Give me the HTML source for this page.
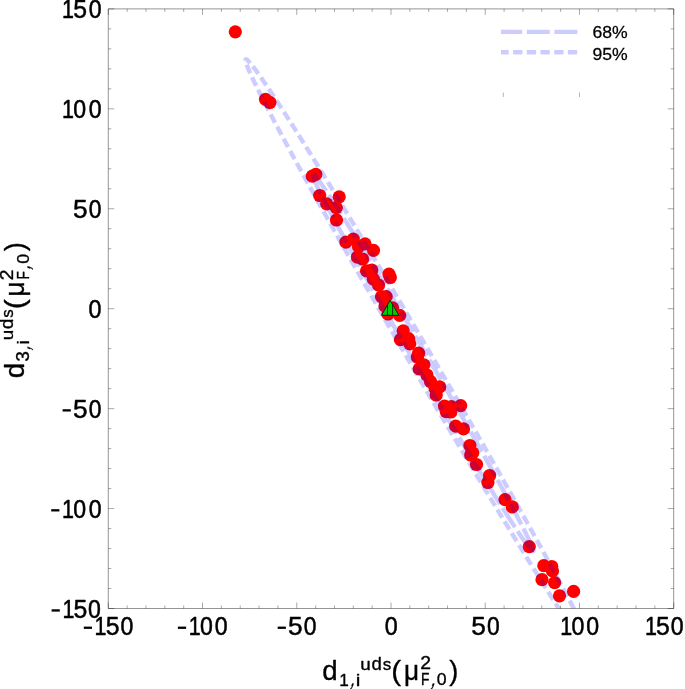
<!DOCTYPE html>
<html><head><meta charset="utf-8"><title>plot</title>
<style>html,body{margin:0;padding:0;background:#fff;}svg{display:block;will-change:transform;}text{font-family:"Liberation Sans",sans-serif;fill:#000;}</style>
</head><body>
<svg width="685" height="689" viewBox="0 0 685 689">
<rect width="685" height="689" fill="#fff"/>
<defs><clipPath id="cp"><rect x="108.30" y="8.90" width="565.40" height="599.60"/></clipPath></defs>
<g clip-path="url(#cp)">
<g fill="#ff0000">
<circle cx="235.3" cy="31.8" r="6.6"/>
<circle cx="265.5" cy="99.3" r="6.6"/>
<circle cx="269.9" cy="102.5" r="6.6"/>
<circle cx="312.3" cy="176.2" r="6.6"/>
<circle cx="315.8" cy="174.4" r="6.6"/>
<circle cx="319.7" cy="195.5" r="6.6"/>
<circle cx="339.2" cy="196.8" r="6.6"/>
<circle cx="326.7" cy="203.8" r="6.6"/>
<circle cx="336.3" cy="207.7" r="6.6"/>
<circle cx="336.5" cy="220.0" r="6.6"/>
<circle cx="345.9" cy="242.1" r="6.6"/>
<circle cx="353.3" cy="239.1" r="6.6"/>
<circle cx="365.0" cy="243.8" r="6.6"/>
<circle cx="373.5" cy="250.3" r="6.6"/>
<circle cx="358.5" cy="246.7" r="6.6"/>
<circle cx="357.4" cy="257.2" r="6.6"/>
<circle cx="362.6" cy="259.0" r="6.6"/>
<circle cx="366.5" cy="270.8" r="6.6"/>
<circle cx="371.8" cy="270.0" r="6.6"/>
<circle cx="389.0" cy="274.2" r="6.6"/>
<circle cx="390.3" cy="277.5" r="6.6"/>
<circle cx="373.4" cy="279.2" r="6.6"/>
<circle cx="378.6" cy="285.0" r="6.6"/>
<circle cx="381.5" cy="296.7" r="6.6"/>
<circle cx="386.2" cy="296.7" r="6.6"/>
<circle cx="385.0" cy="306.0" r="6.6"/>
<circle cx="392.6" cy="307.8" r="6.6"/>
<circle cx="388.0" cy="314.0" r="6.6"/>
<circle cx="399.7" cy="315.3" r="6.6"/>
<circle cx="403.2" cy="330.8" r="6.6"/>
<circle cx="400.4" cy="339.7" r="6.6"/>
<circle cx="408.6" cy="338.6" r="6.6"/>
<circle cx="409.8" cy="343.8" r="6.6"/>
<circle cx="418.6" cy="353.2" r="6.6"/>
<circle cx="417.4" cy="357.2" r="6.6"/>
<circle cx="423.9" cy="364.8" r="6.6"/>
<circle cx="419.2" cy="368.9" r="6.6"/>
<circle cx="427.0" cy="375.0" r="6.6"/>
<circle cx="430.5" cy="381.5" r="6.6"/>
<circle cx="439.7" cy="386.9" r="6.6"/>
<circle cx="435.0" cy="388.0" r="6.6"/>
<circle cx="436.2" cy="395.0" r="6.6"/>
<circle cx="444.5" cy="406.1" r="6.6"/>
<circle cx="451.4" cy="406.7" r="6.6"/>
<circle cx="446.2" cy="411.6" r="6.6"/>
<circle cx="450.8" cy="412.0" r="6.6"/>
<circle cx="460.7" cy="405.6" r="6.6"/>
<circle cx="455.7" cy="426.2" r="6.6"/>
<circle cx="463.5" cy="428.9" r="6.6"/>
<circle cx="469.9" cy="445.5" r="6.6"/>
<circle cx="472.8" cy="452.8" r="6.6"/>
<circle cx="470.7" cy="455.0" r="6.6"/>
<circle cx="476.5" cy="464.5" r="6.6"/>
<circle cx="489.6" cy="475.5" r="6.6"/>
<circle cx="487.9" cy="482.5" r="6.6"/>
<circle cx="505.0" cy="499.6" r="6.6"/>
<circle cx="512.3" cy="506.9" r="6.6"/>
<circle cx="529.3" cy="546.6" r="6.6"/>
<circle cx="543.8" cy="565.7" r="6.6"/>
<circle cx="551.7" cy="566.5" r="6.6"/>
<circle cx="552.5" cy="570.9" r="6.6"/>
<circle cx="542.0" cy="579.7" r="6.6"/>
<circle cx="554.6" cy="582.7" r="6.6"/>
<circle cx="559.5" cy="595.8" r="6.6"/>
<circle cx="573.6" cy="591.4" r="6.6"/>
</g>
<g fill="none" stroke="#0000ff" stroke-opacity="0.2" stroke-width="4.4">
<path d="M312.19 173.14 L312.25 173.11 L312.31 173.11 L312.38 173.11 L312.47 173.13 L312.56 173.17 L312.65 173.21 L312.76 173.28 L312.87 173.36 L313.00 173.45 L313.13 173.55 L313.27 173.68 L313.42 173.81 L313.57 173.96 L313.74 174.12 L313.91 174.30 L314.09 174.49 L314.28 174.70 L314.48 174.92 L314.69 175.16 L314.90 175.41 L315.12 175.67 L315.35 175.95 L315.59 176.24 L315.84 176.55 L316.09 176.87 L316.36 177.20 L316.63 177.55 L316.91 177.92 L317.20 178.29 L317.49 178.68 L317.80 179.09 L318.11 179.51 L318.43 179.94 L318.75 180.39 L319.09 180.85 L319.43 181.32 L319.78 181.81 L320.14 182.31 L320.51 182.83 L320.88 183.36 L321.27 183.90 L321.66 184.45 L322.05 185.02 L322.46 185.61 L322.87 186.20 L323.29 186.81 L323.72 187.44 L324.16 188.08 L324.60 188.73 L325.05 189.39 L325.51 190.07 L325.97 190.76 L326.45 191.46 L326.93 192.17 L327.41 192.90 L327.91 193.64 L328.41 194.40 L328.92 195.17 L329.44 195.95 L329.96 196.74 L330.49 197.54 L331.03 198.36 L331.57 199.19 L332.12 200.03 L332.68 200.89 L333.24 201.76 L333.82 202.64 L334.40 203.53 L334.98 204.43 L335.57 205.35 L336.17 206.27 L336.78 207.21 L337.39 208.17 L338.01 209.13 L338.63 210.10 L339.26 211.09 L339.90 212.09 L340.54 213.10 L341.19 214.12 L341.85 215.15 L342.51 216.19 L343.18 217.25 L343.86 218.31 L344.54 219.39 L345.22 220.48 L345.91 221.57 L346.61 222.68 L347.32 223.80 L348.03 224.93 L348.74 226.07 L349.46 227.22 L350.19 228.38 L350.92 229.55 L351.66 230.74 L352.40 231.93 L353.15 233.13 L353.90 234.34 L354.66 235.56 L355.43 236.79 L356.20 238.03 L356.97 239.28 L357.75 240.54 L358.53 241.81 L359.32 243.08 L360.12 244.37 L360.92 245.67 L361.72 246.97 L362.53 248.28 L363.34 249.60 L364.16 250.93 L364.98 252.27 L365.80 253.62 L366.63 254.98 L367.47 256.34 L368.31 257.71 L369.15 259.09 L370.00 260.48 L370.85 261.87 L371.70 263.28 L372.56 264.69 L373.42 266.10 L374.29 267.53 L375.16 268.96 L376.03 270.40 L376.91 271.85 L377.79 273.30 L378.68 274.76 L379.56 276.23 L380.45 277.70 L381.35 279.18 L382.25 280.66 L383.15 282.16 L384.05 283.66 L384.95 285.16 L385.86 286.67 L386.78 288.19 L387.69 289.71 L388.61 291.23 L389.53 292.77 L390.45 294.30 L391.37 295.85 L392.30 297.40 L393.23 298.95 L394.16 300.51 L395.10 302.07 L396.03 303.64 L396.97 305.21 L397.91 306.78 L398.85 308.36 L399.80 309.95 L400.74 311.54 L401.69 313.13 L402.64 314.72 L403.59 316.32 L404.54 317.93 L405.49 319.53 L406.45 321.14 L407.40 322.75 L408.36 324.37 L409.32 325.99 L410.27 327.61 L411.23 329.23 L412.19 330.86 L413.16 332.49 L414.12 334.12 L415.08 335.75 L416.04 337.39 L417.01 339.02 L417.97 340.66 L418.94 342.30 L419.90 343.95 L420.87 345.59 L421.83 347.23 L422.80 348.88 L423.76 350.53 L424.73 352.17 L425.69 353.82 L426.66 355.47 L427.62 357.12 L428.59 358.77 L429.55 360.42 L430.51 362.07 L431.48 363.72 L432.44 365.37 L433.40 367.02 L434.36 368.67 L435.32 370.32 L436.28 371.97 L437.23 373.62 L438.19 375.27 L439.15 376.91 L440.10 378.56 L441.05 380.20 L442.00 381.84 L442.95 383.48 L443.90 385.12 L444.85 386.76 L445.79 388.40 L446.74 390.03 L447.68 391.66 L448.62 393.29 L449.55 394.92 L450.49 396.54 L451.42 398.16 L452.35 399.78 L453.28 401.40 L454.21 403.01 L455.13 404.62 L456.05 406.23 L456.97 407.83 L457.89 409.43 L458.80 411.03 L459.71 412.62 L460.62 414.21 L461.53 415.80 L462.43 417.38 L463.33 418.95 L464.22 420.53 L465.12 422.10 L466.01 423.66 L466.89 425.22 L467.78 426.77 L468.66 428.32 L469.53 429.86 L470.41 431.40 L471.27 432.94 L472.14 434.46 L473.00 435.99 L473.86 437.50 L474.71 439.02 L475.56 440.52 L476.41 442.02 L477.25 443.51 L478.09 445.00 L478.92 446.48 L479.75 447.96 L480.57 449.42 L481.39 450.89 L482.21 452.34 L483.02 453.79 L483.83 455.23 L484.63 456.66 L485.43 458.09 L486.22 459.51 L487.01 460.92 L487.79 462.32 L488.57 463.72 L489.34 465.11 L490.11 466.49 L490.87 467.86 L491.63 469.23 L492.38 470.59 L493.13 471.94 L493.87 473.28 L494.60 474.61 L495.33 475.93 L496.06 477.25 L496.78 478.55 L497.49 479.85 L498.20 481.14 L498.90 482.42 L499.60 483.69 L500.29 484.95 L500.97 486.20 L501.65 487.44 L502.32 488.67 L502.99 489.89 L503.65 491.11 L504.31 492.31 L504.95 493.50 L505.60 494.69 L506.23 495.86 L506.86 497.02 L507.48 498.18 L508.10 499.32 L508.71 500.45 L509.31 501.57 L509.91 502.68 L510.50 503.78 L511.08 504.87 L511.66 505.95 L512.23 507.02 L512.79 508.07 L513.35 509.12 L513.90 510.15 L514.44 511.18 L514.97 512.19 L515.50 513.19 L516.02 514.18 L516.54 515.16 L517.04 516.12 L517.54 517.07 L518.04 518.02 L518.52 518.95 L519.00 519.86 L519.47 520.77 L519.93 521.66 L520.39 522.55 L520.84 523.42 L521.28 524.27 L521.71 525.12 L522.14 525.95 L522.56 526.77 L522.97 527.58 L523.37 528.38 L523.76 529.16 L524.15 529.93 L524.53 530.68 L524.90 531.43 L525.27 532.16 L525.62 532.88 L525.97 533.58 L526.31 534.28 L526.65 534.96 L526.97 535.62 L527.29 536.27 L527.60 536.91 L527.90 537.54 L528.19 538.15 L528.48 538.75 L528.75 539.34 L529.02 539.91 L529.28 540.47 L529.54 541.02 L529.78 541.55 L530.02 542.07 L530.25 542.57 L530.47 543.06 L530.68 543.54 L530.88 544.00 L531.08 544.45 L531.26 544.89 L531.44 545.31 L531.61 545.72 L531.78 546.11 L531.93 546.49 L532.07 546.86 L532.21 547.21 L532.34 547.54 L532.46 547.87 L532.57 548.18 L532.68 548.47 L532.77 548.75 L532.86 549.02 L532.94 549.27 L533.01 549.51 L533.07 549.73 L533.12 549.94 L533.17 550.14 L533.21 550.32 L533.23 550.49 L533.25 550.64 L533.26 550.78 L533.27 550.90 L533.26 551.01 L533.25 551.11 L533.23 551.19 L533.20 551.25 L533.16 551.31 L533.11 551.34 L533.05 551.37 L532.99 551.37 L532.92 551.37 L532.83 551.35 L532.74 551.31 L532.65 551.27 L532.54 551.20 L532.43 551.12 L532.30 551.03 L532.17 550.93 L532.03 550.80 L531.88 550.67 L531.73 550.52 L531.56 550.36 L531.39 550.18 L531.21 549.99 L531.02 549.78 L530.82 549.56 L530.61 549.32 L530.40 549.07 L530.18 548.81 L529.95 548.53 L529.71 548.24 L529.46 547.93 L529.21 547.61 L528.94 547.28 L528.67 546.93 L528.39 546.56 L528.10 546.19 L527.81 545.80 L527.50 545.39 L527.19 544.97 L526.87 544.54 L526.55 544.09 L526.21 543.63 L525.87 543.16 L525.52 542.67 L525.16 542.17 L524.79 541.65 L524.42 541.12 L524.03 540.58 L523.64 540.03 L523.25 539.46 L522.84 538.87 L522.43 538.28 L522.01 537.67 L521.58 537.04 L521.14 536.40 L520.70 535.75 L520.25 535.09 L519.79 534.41 L519.33 533.72 L518.85 533.02 L518.37 532.31 L517.89 531.58 L517.39 530.84 L516.89 530.08 L516.38 529.31 L515.86 528.53 L515.34 527.74 L514.81 526.94 L514.27 526.12 L513.73 525.29 L513.18 524.45 L512.62 523.59 L512.06 522.72 L511.48 521.84 L510.90 520.95 L510.32 520.05 L509.73 519.13 L509.13 518.21 L508.52 517.27 L507.91 516.31 L507.29 515.35 L506.67 514.38 L506.04 513.39 L505.40 512.39 L504.76 511.38 L504.11 510.36 L503.45 509.33 L502.79 508.29 L502.12 507.23 L501.44 506.17 L500.76 505.09 L500.08 504.00 L499.39 502.91 L498.69 501.80 L497.98 500.68 L497.27 499.55 L496.56 498.41 L495.84 497.26 L495.11 496.10 L494.38 494.93 L493.64 493.74 L492.90 492.55 L492.15 491.35 L491.40 490.14 L490.64 488.92 L489.87 487.69 L489.10 486.45 L488.33 485.20 L487.55 483.94 L486.77 482.67 L485.98 481.40 L485.18 480.11 L484.38 478.81 L483.58 477.51 L482.77 476.20 L481.96 474.88 L481.14 473.55 L480.32 472.21 L479.50 470.86 L478.67 469.50 L477.83 468.14 L476.99 466.77 L476.15 465.39 L475.30 464.00 L474.45 462.61 L473.60 461.20 L472.74 459.79 L471.88 458.38 L471.01 456.95 L470.14 455.52 L469.27 454.08 L468.39 452.63 L467.51 451.18 L466.62 449.72 L465.74 448.25 L464.85 446.78 L463.95 445.30 L463.05 443.82 L462.15 442.32 L461.25 440.82 L460.35 439.32 L459.44 437.81 L458.52 436.29 L457.61 434.77 L456.69 433.25 L455.77 431.71 L454.85 430.18 L453.93 428.63 L453.00 427.08 L452.07 425.53 L451.14 423.97 L450.20 422.41 L449.27 420.84 L448.33 419.27 L447.39 417.70 L446.45 416.12 L445.50 414.53 L444.56 412.94 L443.61 411.35 L442.66 409.76 L441.71 408.16 L440.76 406.55 L439.81 404.95 L438.85 403.34 L437.90 401.73 L436.94 400.11 L435.98 398.49 L435.03 396.87 L434.07 395.25 L433.11 393.62 L432.14 391.99 L431.18 390.36 L430.22 388.73 L429.26 387.09 L428.29 385.46 L427.33 383.82 L426.36 382.18 L425.40 380.53 L424.43 378.89 L423.47 377.25 L422.50 375.60 L421.54 373.95 L420.57 372.31 L419.61 370.66 L418.64 369.01 L417.68 367.36 L416.71 365.71 L415.75 364.06 L414.79 362.41 L413.82 360.76 L412.86 359.11 L411.90 357.46 L410.94 355.81 L409.98 354.16 L409.02 352.51 L408.07 350.86 L407.11 349.21 L406.15 347.57 L405.20 345.92 L404.25 344.28 L403.30 342.64 L402.35 341.00 L401.40 339.36 L400.45 337.72 L399.51 336.08 L398.56 334.45 L397.62 332.82 L396.68 331.19 L395.75 329.56 L394.81 327.94 L393.88 326.32 L392.95 324.70 L392.02 323.08 L391.09 321.47 L390.17 319.86 L389.25 318.25 L388.33 316.65 L387.41 315.05 L386.50 313.45 L385.59 311.86 L384.68 310.27 L383.77 308.68 L382.87 307.10 L381.97 305.53 L381.08 303.95 L380.18 302.38 L379.29 300.82 L378.41 299.26 L377.52 297.71 L376.64 296.16 L375.77 294.62 L374.89 293.08 L374.03 291.54 L373.16 290.02 L372.30 288.49 L371.44 286.98 L370.59 285.46 L369.74 283.96 L368.89 282.46 L368.05 280.97 L367.21 279.48 L366.38 278.00 L365.55 276.52 L364.73 275.06 L363.91 273.59 L363.09 272.14 L362.28 270.69 L361.47 269.25 L360.67 267.82 L359.87 266.39 L359.08 264.97 L358.29 263.56 L357.51 262.16 L356.73 260.76 L355.96 259.37 L355.19 257.99 L354.43 256.62 L353.67 255.25 L352.92 253.89 L352.17 252.54 L351.43 251.20 L350.70 249.87 L349.97 248.55 L349.24 247.23 L348.52 245.93 L347.81 244.63 L347.10 243.34 L346.40 242.06 L345.70 240.79 L345.01 239.53 L344.33 238.28 L343.65 237.04 L342.98 235.81 L342.31 234.59 L341.65 233.37 L340.99 232.17 L340.35 230.98 L339.70 229.79 L339.07 228.62 L338.44 227.46 L337.82 226.30 L337.20 225.16 L336.59 224.03 L335.99 222.91 L335.39 221.80 L334.80 220.70 L334.22 219.61 L333.64 218.53 L333.07 217.46 L332.51 216.41 L331.95 215.36 L331.40 214.33 L330.86 213.30 L330.33 212.29 L329.80 211.29 L329.28 210.30 L328.76 209.32 L328.26 208.36 L327.76 207.41 L327.26 206.46 L326.78 205.53 L326.30 204.62 L325.83 203.71 L325.37 202.82 L324.91 201.93 L324.46 201.06 L324.02 200.21 L323.59 199.36 L323.16 198.53 L322.74 197.71 L322.33 196.90 L321.93 196.10 L321.54 195.32 L321.15 194.55 L320.77 193.80 L320.40 193.05 L320.03 192.32 L319.68 191.60 L319.33 190.90 L318.99 190.20 L318.65 189.52 L318.33 188.86 L318.01 188.21 L317.70 187.57 L317.40 186.94 L317.11 186.33 L316.82 185.73 L316.55 185.14 L316.28 184.57 L316.02 184.01 L315.76 183.46 L315.52 182.93 L315.28 182.41 L315.05 181.91 L314.83 181.42 L314.62 180.94 L314.42 180.48 L314.22 180.03 L314.04 179.59 L313.86 179.17 L313.69 178.76 L313.52 178.37 L313.37 177.99 L313.23 177.62 L313.09 177.27 L312.96 176.94 L312.84 176.61 L312.73 176.30 L312.62 176.01 L312.53 175.73 L312.44 175.46 L312.36 175.21 L312.29 174.97 L312.23 174.75 L312.18 174.54 L312.13 174.34 L312.09 174.16 L312.07 173.99 L312.05 173.84 L312.04 173.70 L312.03 173.58 L312.04 173.47 L312.05 173.37 L312.07 173.29 L312.10 173.23 L312.14 173.17 L312.19 173.14" stroke-dasharray="0 1.5 21.5 4.6 23 4.6 23 4.6 23 4.6 23 4.6 23 4.6 23 4.6 23 4.6 23 4.6 23 4.6 23 4.6 23 4.6 23 4.6 23 4.6 23 4.6 50.6 4.6 23 4.6 23 4.6 23 4.6 23 4.6 23 4.6 23 4.6 23 4.6 23 4.6 23 4.6 23 4.6 23 4.6 23 4.6 23 4.6 23 4.6 20.8 10"/>
<path d="M599.59 665.15 L599.54 665.17 L599.50 665.19 L599.44 665.20 L599.39 665.20 L599.33 665.20 L599.27 665.19 L599.21 665.18 L599.14 665.16 L599.07 665.14 L599.00 665.11 L598.92 665.07 L598.84 665.03 L598.76 664.98 L598.67 664.93 L598.58 664.87 L598.49 664.80 L598.39 664.73 L598.29 664.66 L598.18 664.57 L598.08 664.49 L597.97 664.39 L597.85 664.29 L597.73 664.19 L597.61 664.08 L597.49 663.96 L597.36 663.84 L597.23 663.71 L597.10 663.57 L596.96 663.43 L596.82 663.29 L596.68 663.14 L596.53 662.98 L596.38 662.82 L596.23 662.65 L596.07 662.48 L595.91 662.30 L595.74 662.11 L595.58 661.92 L595.41 661.72 L595.23 661.52 L595.06 661.31 L594.88 661.10 L594.69 660.88 L594.51 660.65 L594.32 660.42 L594.12 660.19 L593.93 659.94 L593.73 659.69 L593.52 659.44 L593.32 659.18 L593.11 658.92 L592.89 658.65 L592.68 658.37 L592.46 658.09 L592.24 657.80 L592.01 657.51 L591.78 657.21 L591.55 656.90 L591.31 656.59 L591.08 656.28 L590.83 655.96 L590.59 655.63 L590.34 655.30 L590.09 654.96 L589.83 654.62 L589.58 654.27 L589.32 653.91 L589.05 653.55 L588.78 653.19 L588.51 652.81 L588.24 652.44 L587.96 652.05 L587.68 651.67 L587.40 651.27 L587.11 650.87 L586.83 650.47 L586.53 650.06 L586.24 649.64 L585.94 649.22 L585.64 648.80 L585.33 648.37 L585.02 647.93 L584.71 647.49 L584.40 647.04 L584.08 646.58 L583.76 646.12 L583.44 645.66 L583.11 645.19 L582.78 644.72 L582.45 644.23 L582.11 643.75 L581.77 643.26 L581.43 642.76 L581.09 642.26 L580.74 641.75 L580.39 641.24 L580.04 640.72 L579.68 640.20 L579.32 639.67 L578.96 639.14 L578.59 638.60 L578.22 638.05 L577.85 637.50 L577.48 636.95 L577.10 636.39 L576.72 635.82 L576.34 635.25 L575.95 634.68 L575.56 634.10 L575.17 633.51 L574.77 632.92 L574.37 632.32 L573.97 631.72 L573.57 631.11 L573.16 630.50 L572.75 629.89 L572.34 629.26 L571.93 628.64 L571.51 628.00 L571.09 627.37 L570.66 626.72 L570.24 626.08 L569.81 625.43 L569.38 624.77 L568.94 624.11 L568.50 623.44 L568.06 622.77 L567.62 622.09 L567.17 621.41 L566.73 620.72 L566.27 620.03 L565.82 619.33 L565.36 618.63 L564.90 617.92 L564.44 617.21 L563.98 616.49 L563.51 615.77 L563.04 615.05 L562.57 614.32 L562.09 613.58 L561.61 612.84 L561.13 612.09 L560.65 611.34 L560.16 610.59 L559.67 609.83 L559.18 609.07 L558.69 608.30 L558.19 607.52 L557.69 606.75 L557.19 605.96 L556.68 605.18 L556.18 604.38 L555.67 603.59 L555.15 602.79 L554.64 601.98 L554.12 601.17 L553.60 600.35 L553.08 599.53 L552.56 598.71 L552.03 597.88 L551.50 597.05 L550.97 596.21 L550.43 595.37 L549.90 594.52 L549.36 593.67 L548.82 592.82 L548.27 591.96 L547.73 591.09 L547.18 590.22 L546.63 589.35 L546.07 588.47 L545.52 587.59 L544.96 586.71 L544.40 585.82 L543.83 584.92 L543.27 584.02 L542.70 583.12 L542.13 582.21 L541.56 581.30 L540.98 580.39 L540.41 579.47 L539.83 578.55 L539.25 577.62 L538.67 576.69 L538.08 575.75 L537.49 574.81 L536.90 573.87 L536.31 572.92 L535.72 571.97 L535.12 571.01 L534.52 570.05 L533.92 569.09 L533.32 568.12 L532.71 567.15 L532.11 566.17 L531.50 565.19 L530.89 564.21 L530.27 563.22 L529.66 562.23 L529.04 561.24 L528.42 560.24 L527.80 559.23 L527.18 558.23 L526.55 557.22 L525.92 556.20 L525.29 555.19 L524.66 554.17 L524.03 553.14 L523.39 552.11 L522.76 551.08 L522.12 550.05 L521.48 549.01 L520.84 547.96 L520.19 546.92 L519.54 545.87 L518.90 544.82 L518.25 543.76 L517.59 542.70 L516.94 541.64 L516.28 540.57 L515.63 539.50 L514.97 538.42 L514.31 537.35 L513.64 536.27 L512.98 535.18 L512.31 534.10 L511.65 533.01 L510.98 531.91 L510.31 530.82 L509.63 529.72 L508.96 528.61 L508.28 527.51 L507.61 526.40 L506.93 525.28 L506.25 524.17 L505.56 523.05 L504.88 521.93 L504.19 520.80 L503.51 519.67 L502.82 518.54 L502.13 517.41 L501.44 516.27 L500.74 515.13 L500.05 513.99 L499.35 512.84 L498.65 511.70 L497.95 510.55 L497.25 509.39 L496.55 508.23 L495.85 507.07 L495.14 505.91 L494.44 504.75 L493.73 503.58 L493.02 502.41 L492.31 501.23 L491.60 500.06 L490.89 498.88 L490.17 497.70 L489.46 496.52 L488.74 495.33 L488.02 494.14 L487.30 492.95 L486.58 491.76 L485.86 490.56 L485.14 489.36 L484.41 488.16 L483.69 486.96 L482.96 485.75 L482.23 484.54 L481.51 483.33 L480.78 482.12 L480.04 480.90 L479.31 479.69 L478.58 478.47 L477.85 477.24 L477.11 476.02 L476.37 474.79 L475.64 473.57 L474.90 472.33 L474.16 471.10 L473.42 469.87 L472.68 468.63 L471.94 467.39 L471.19 466.15 L470.45 464.91 L469.70 463.66 L468.96 462.42 L468.21 461.17 L467.46 459.92 L466.71 458.67 L465.97 457.41 L465.22 456.16 L464.46 454.90 L463.71 453.64 L462.96 452.38 L462.21 451.12 L461.45 449.85 L460.70 448.58 L459.94 447.32 L459.19 446.05 L458.43 444.78 L457.67 443.50 L456.91 442.23 L456.15 440.95 L455.40 439.68 L454.63 438.40 L453.87 437.12 L453.11 435.84 L452.35 434.55 L451.59 433.27 L450.83 431.98 L450.06 430.69 L449.30 429.41 L448.53 428.12 L447.77 426.83 L447.00 425.53 L446.24 424.24 L445.47 422.95 L444.70 421.65 L443.94 420.35 L443.17 419.06 L442.40 417.76 L441.63 416.46 L440.86 415.16 L440.09 413.85 L439.32 412.55 L438.55 411.25 L437.78 409.94 L437.01 408.64 L436.24 407.33 L435.47 406.02 L434.70 404.71 L433.93 403.40 L433.16 402.09 L432.38 400.78 L431.61 399.47 L430.84 398.16 L430.07 396.85 L429.30 395.53 L428.52 394.22 L427.75 392.90 L426.98 391.59 L426.20 390.27 L425.43 388.95 L424.66 387.64 L423.88 386.32 L423.11 385.00 L422.34 383.68 L421.57 382.37 L420.79 381.05 L420.02 379.73 L419.25 378.41 L418.47 377.09 L417.70 375.77 L416.93 374.45 L416.15 373.12 L415.38 371.80 L414.61 370.48 L413.84 369.16 L413.07 367.84 L412.29 366.52 L411.52 365.20 L410.75 363.87 L409.98 362.55 L409.21 361.23 L408.44 359.91 L407.67 358.59 L406.90 357.26 L406.13 355.94 L405.36 354.62 L404.59 353.30 L403.82 351.98 L403.05 350.66 L402.28 349.34 L401.51 348.02 L400.75 346.70 L399.98 345.37 L399.21 344.06 L398.45 342.74 L397.68 341.42 L396.92 340.10 L396.15 338.78 L395.39 337.46 L394.62 336.15 L393.86 334.83 L393.10 333.51 L392.34 332.20 L391.57 330.88 L390.81 329.57 L390.05 328.25 L389.29 326.94 L388.53 325.63 L387.78 324.32 L387.02 323.00 L386.26 321.69 L385.50 320.38 L384.75 319.08 L383.99 317.77 L383.24 316.46 L382.49 315.15 L381.73 313.85 L380.98 312.54 L380.23 311.24 L379.48 309.94 L378.73 308.64 L377.98 307.34 L377.23 306.04 L376.49 304.74 L375.74 303.44 L375.00 302.14 L374.25 300.85 L373.51 299.56 L372.77 298.26 L372.03 296.97 L371.28 295.68 L370.55 294.39 L369.81 293.10 L369.07 291.82 L368.33 290.53 L367.60 289.25 L366.86 287.97 L366.13 286.69 L365.40 285.41 L364.67 284.13 L363.94 282.85 L363.21 281.58 L362.48 280.30 L361.75 279.03 L361.03 277.76 L360.30 276.49 L359.58 275.23 L358.86 273.96 L358.14 272.70 L357.42 271.43 L356.70 270.17 L355.98 268.92 L355.27 267.66 L354.55 266.40 L353.84 265.15 L353.13 263.90 L352.42 262.65 L351.71 261.40 L351.00 260.16 L350.29 258.91 L349.59 257.67 L348.89 256.43 L348.18 255.19 L347.48 253.96 L346.78 252.73 L346.08 251.49 L345.39 250.26 L344.69 249.04 L344.00 247.81 L343.31 246.59 L342.62 245.37 L341.93 244.15 L341.24 242.93 L340.55 241.72 L339.87 240.51 L339.19 239.30 L338.51 238.09 L337.83 236.89 L337.15 235.68 L336.47 234.48 L335.80 233.29 L335.12 232.09 L334.45 230.90 L333.78 229.71 L333.11 228.52 L332.45 227.34 L331.78 226.16 L331.12 224.98 L330.46 223.80 L329.80 222.62 L329.14 221.45 L328.49 220.28 L327.83 219.12 L327.18 217.95 L326.53 216.79 L325.88 215.63 L325.23 214.48 L324.59 213.33 L323.95 212.18 L323.31 211.03 L322.67 209.88 L322.03 208.74 L321.39 207.61 L320.76 206.47 L320.13 205.34 L319.50 204.21 L318.87 203.08 L318.25 201.96 L317.62 200.84 L317.00 199.72 L316.38 198.61 L315.76 197.50 L315.15 196.39 L314.53 195.28 L313.92 194.18 L313.31 193.08 L312.71 191.99 L312.10 190.90 L311.50 189.81 L310.90 188.72 L310.30 187.64 L309.70 186.56 L309.11 185.49 L308.51 184.42 L307.92 183.35 L307.33 182.28 L306.75 181.22 L306.16 180.16 L305.58 179.11 L305.00 178.06 L304.43 177.01 L303.85 175.96 L303.28 174.92 L302.71 173.89 L302.14 172.85 L301.58 171.82 L301.01 170.80 L300.45 169.77 L299.89 168.75 L299.34 167.74 L298.78 166.73 L298.23 165.72 L297.68 164.71 L297.13 163.71 L296.59 162.72 L296.05 161.72 L295.51 160.74 L294.97 159.75 L294.44 158.77 L293.90 157.79 L293.37 156.82 L292.85 155.85 L292.32 154.88 L291.80 153.92 L291.28 152.96 L290.76 152.01 L290.25 151.06 L289.73 150.11 L289.22 149.17 L288.72 148.23 L288.21 147.30 L287.71 146.37 L287.21 145.45 L286.71 144.52 L286.22 143.61 L285.72 142.69 L285.23 141.78 L284.75 140.88 L284.26 139.98 L283.78 139.08 L283.30 138.19 L282.83 137.30 L282.35 136.42 L281.88 135.54 L281.41 134.67 L280.95 133.80 L280.49 132.93 L280.03 132.07 L279.57 131.21 L279.11 130.36 L278.66 129.51 L278.21 128.67 L277.77 127.83 L277.32 126.99 L276.88 126.16 L276.44 125.33 L276.01 124.51 L275.57 123.69 L275.15 122.88 L274.72 122.07 L274.29 121.27 L273.87 120.47 L273.45 119.68 L273.04 118.89 L272.63 118.10 L272.22 117.32 L271.81 116.55 L271.40 115.77 L271.00 115.01 L270.60 114.25 L270.21 113.49 L269.82 112.74 L269.43 111.99 L269.04 111.25 L268.66 110.51 L268.27 109.78 L267.90 109.05 L267.52 108.32 L267.15 107.61 L266.78 106.89 L266.41 106.18 L266.05 105.48 L265.69 104.78 L265.33 104.09 L264.98 103.40 L264.63 102.71 L264.28 102.03 L263.93 101.36 L263.59 100.69 L263.25 100.02 L262.92 99.36 L262.58 98.71 L262.25 98.06 L261.93 97.41 L261.60 96.78 L261.28 96.14 L260.96 95.51 L260.65 94.89 L260.34 94.27 L260.03 93.65 L259.72 93.04 L259.42 92.44 L259.12 91.84 L258.82 91.25 L258.53 90.66 L258.24 90.08 L257.95 89.50 L257.67 88.93 L257.39 88.36 L257.11 87.80 L256.84 87.24 L256.57 86.69 L256.30 86.14 L256.04 85.60 L255.77 85.06 L255.52 84.53 L255.26 84.00 L255.01 83.48 L254.76 82.97 L254.51 82.46 L254.27 81.95 L254.03 81.46 L253.80 80.96 L253.56 80.47 L253.33 79.99 L253.11 79.51 L252.88 79.04 L252.66 78.57 L252.45 78.11 L252.23 77.66 L252.02 77.20 L251.82 76.76 L251.61 76.32 L251.41 75.89 L251.22 75.46 L251.02 75.03 L250.83 74.62 L250.64 74.20 L250.46 73.80 L250.28 73.39 L250.10 73.00 L249.93 72.61 L249.76 72.22 L249.59 71.84 L249.42 71.47 L249.26 71.10 L249.11 70.74 L248.95 70.38 L248.80 70.03 L248.65 69.68 L248.51 69.34 L248.37 69.01 L248.23 68.68 L248.09 68.35 L247.96 68.03 L247.83 67.72 L247.71 67.41 L247.59 67.11 L247.47 66.82 L247.36 66.53 L247.24 66.24 L247.14 65.96 L247.03 65.69 L246.93 65.42 L246.83 65.16 L246.74 64.90 L246.65 64.65 L246.56 64.41 L246.47 64.17 L246.39 63.94 L246.32 63.71 L246.24 63.48 L246.17 63.27 L246.10 63.06 L246.04 62.85 L245.98 62.65 L245.92 62.46 L245.87 62.27 L245.81 62.09 L245.77 61.91 L245.72 61.74 L245.68 61.57 L245.64 61.41 L245.61 61.26 L245.58 61.11 L245.55 60.97 L245.53 60.83 L245.51 60.70 L245.49 60.58 L245.48 60.46 L245.47 60.34 L245.46 60.24 L245.46 60.13 L245.46 60.04 L245.46 59.95 L245.46 59.86 L245.47 59.78 L245.49 59.71 L245.50 59.64 L245.52 59.58 L245.55 59.52 L245.57 59.47 L245.60 59.43 L245.64 59.39 L245.67 59.36 L245.71 59.33 L245.76 59.31 L245.80 59.29 L245.86 59.28 L245.91 59.28 L245.97 59.28 L246.03 59.29 L246.09 59.30 L246.16 59.32 L246.23 59.34 L246.30 59.37 L246.38 59.41 L246.46 59.45 L246.54 59.50 L246.63 59.55 L246.72 59.61 L246.81 59.68 L246.91 59.75 L247.01 59.82 L247.12 59.91 L247.22 59.99 L247.33 60.09 L247.45 60.19 L247.57 60.29 L247.69 60.40 L247.81 60.52 L247.94 60.64 L248.07 60.77 L248.20 60.91 L248.34 61.05 L248.48 61.19 L248.62 61.34 L248.77 61.50 L248.92 61.66 L249.07 61.83 L249.23 62.00 L249.39 62.18 L249.56 62.37 L249.72 62.56 L249.89 62.76 L250.07 62.96 L250.24 63.17 L250.42 63.38 L250.61 63.60 L250.79 63.83 L250.98 64.06 L251.18 64.29 L251.37 64.54 L251.57 64.79 L251.78 65.04 L251.98 65.30 L252.19 65.56 L252.41 65.83 L252.62 66.11 L252.84 66.39 L253.06 66.68 L253.29 66.97 L253.52 67.27 L253.75 67.58 L253.99 67.89 L254.22 68.20 L254.47 68.52 L254.71 68.85 L254.96 69.18 L255.21 69.52 L255.47 69.86 L255.72 70.21 L255.98 70.57 L256.25 70.93 L256.52 71.29 L256.79 71.67 L257.06 72.04 L257.34 72.43 L257.62 72.81 L257.90 73.21 L258.19 73.61 L258.47 74.01 L258.77 74.42 L259.06 74.84 L259.36 75.26 L259.66 75.68 L259.97 76.11 L260.28 76.55 L260.59 76.99 L260.90 77.44 L261.22 77.90 L261.54 78.36 L261.86 78.82 L262.19 79.29 L262.52 79.76 L262.85 80.25 L263.19 80.73 L263.53 81.22 L263.87 81.72 L264.21 82.22 L264.56 82.73 L264.91 83.24 L265.26 83.76 L265.62 84.28 L265.98 84.81 L266.34 85.34 L266.71 85.88 L267.08 86.43 L267.45 86.98 L267.82 87.53 L268.20 88.09 L268.58 88.66 L268.96 89.23 L269.35 89.80 L269.74 90.38 L270.13 90.97 L270.53 91.56 L270.93 92.16 L271.33 92.76 L271.73 93.37 L272.14 93.98 L272.55 94.59 L272.96 95.22 L273.37 95.84 L273.79 96.48 L274.21 97.11 L274.64 97.76 L275.06 98.40 L275.49 99.05 L275.92 99.71 L276.36 100.37 L276.80 101.04 L277.24 101.71 L277.68 102.39 L278.13 103.07 L278.57 103.76 L279.03 104.45 L279.48 105.15 L279.94 105.85 L280.40 106.56 L280.86 107.27 L281.32 107.99 L281.79 108.71 L282.26 109.43 L282.73 110.16 L283.21 110.90 L283.69 111.64 L284.17 112.39 L284.65 113.14 L285.14 113.89 L285.63 114.65 L286.12 115.41 L286.61 116.18 L287.11 116.96 L287.61 117.73 L288.11 118.52 L288.62 119.30 L289.12 120.10 L289.63 120.89 L290.15 121.69 L290.66 122.50 L291.18 123.31 L291.70 124.13 L292.22 124.95 L292.74 125.77 L293.27 126.60 L293.80 127.43 L294.33 128.27 L294.87 129.11 L295.40 129.96 L295.94 130.81 L296.48 131.66 L297.03 132.52 L297.57 133.39 L298.12 134.26 L298.67 135.13 L299.23 136.01 L299.78 136.89 L300.34 137.77 L300.90 138.66 L301.47 139.56 L302.03 140.46 L302.60 141.36 L303.17 142.27 L303.74 143.18 L304.32 144.09 L304.89 145.01 L305.47 145.93 L306.05 146.86 L306.63 147.79 L307.22 148.73 L307.81 149.67 L308.40 150.61 L308.99 151.56 L309.58 152.51 L310.18 153.47 L310.78 154.43 L311.38 155.39 L311.98 156.36 L312.59 157.33 L313.19 158.31 L313.80 159.29 L314.41 160.27 L315.03 161.26 L315.64 162.25 L316.26 163.24 L316.88 164.24 L317.50 165.25 L318.12 166.25 L318.75 167.26 L319.38 168.28 L320.01 169.29 L320.64 170.31 L321.27 171.34 L321.91 172.37 L322.54 173.40 L323.18 174.43 L323.82 175.47 L324.46 176.52 L325.11 177.56 L325.76 178.61 L326.40 179.66 L327.05 180.72 L327.71 181.78 L328.36 182.84 L329.02 183.91 L329.67 184.98 L330.33 186.06 L330.99 187.13 L331.66 188.21 L332.32 189.30 L332.99 190.38 L333.65 191.47 L334.32 192.57 L334.99 193.66 L335.67 194.76 L336.34 195.87 L337.02 196.97 L337.69 198.08 L338.37 199.20 L339.05 200.31 L339.74 201.43 L340.42 202.55 L341.11 203.68 L341.79 204.81 L342.48 205.94 L343.17 207.07 L343.86 208.21 L344.56 209.35 L345.25 210.49 L345.95 211.64 L346.65 212.78 L347.35 213.93 L348.05 215.09 L348.75 216.25 L349.45 217.41 L350.16 218.57 L350.86 219.73 L351.57 220.90 L352.28 222.07 L352.99 223.25 L353.70 224.42 L354.41 225.60 L355.13 226.78 L355.84 227.96 L356.56 229.15 L357.28 230.34 L358.00 231.53 L358.72 232.72 L359.44 233.92 L360.16 235.12 L360.89 236.32 L361.61 237.52 L362.34 238.73 L363.07 239.94 L363.79 241.15 L364.52 242.36 L365.26 243.58 L365.99 244.79 L366.72 246.01 L367.45 247.24 L368.19 248.46 L368.93 249.69 L369.66 250.91 L370.40 252.15 L371.14 253.38 L371.88 254.61 L372.62 255.85 L373.36 257.09 L374.11 258.33 L374.85 259.57 L375.60 260.82 L376.34 262.06 L377.09 263.31 L377.84 264.56 L378.59 265.81 L379.33 267.07 L380.08 268.32 L380.84 269.58 L381.59 270.84 L382.34 272.10 L383.09 273.36 L383.85 274.63 L384.60 275.90 L385.36 277.16 L386.11 278.43 L386.87 279.70 L387.63 280.98 L388.39 282.25 L389.15 283.53 L389.90 284.80 L390.67 286.08 L391.43 287.36 L392.19 288.64 L392.95 289.93 L393.71 291.21 L394.47 292.50 L395.24 293.79 L396.00 295.07 L396.77 296.36 L397.53 297.65 L398.30 298.95 L399.06 300.24 L399.83 301.53 L400.60 302.83 L401.36 304.13 L402.13 305.42 L402.90 306.72 L403.67 308.02 L404.44 309.32 L405.21 310.63 L405.98 311.93 L406.75 313.23 L407.52 314.54 L408.29 315.84 L409.06 317.15 L409.83 318.46 L410.60 319.77 L411.37 321.08 L412.14 322.39 L412.92 323.70 L413.69 325.01 L414.46 326.32 L415.23 327.63 L416.00 328.95 L416.78 330.26 L417.55 331.58 L418.32 332.89 L419.10 334.21 L419.87 335.53 L420.64 336.84 L421.42 338.16 L422.19 339.48 L422.96 340.80 L423.73 342.11 L424.51 343.43 L425.28 344.75 L426.05 346.07 L426.83 347.39 L427.60 348.71 L428.37 350.03 L429.15 351.36 L429.92 352.68 L430.69 354.00 L431.46 355.32 L432.23 356.64 L433.01 357.96 L433.78 359.28 L434.55 360.61 L435.32 361.93 L436.09 363.25 L436.86 364.57 L437.63 365.89 L438.40 367.22 L439.17 368.54 L439.94 369.86 L440.71 371.18 L441.48 372.50 L442.25 373.82 L443.02 375.14 L443.79 376.46 L444.55 377.78 L445.32 379.11 L446.09 380.42 L446.85 381.74 L447.62 383.06 L448.38 384.38 L449.15 385.70 L449.91 387.02 L450.68 388.33 L451.44 389.65 L452.20 390.97 L452.96 392.28 L453.73 393.60 L454.49 394.91 L455.25 396.23 L456.01 397.54 L456.77 398.85 L457.52 400.16 L458.28 401.48 L459.04 402.79 L459.80 404.10 L460.55 405.40 L461.31 406.71 L462.06 408.02 L462.81 409.33 L463.57 410.63 L464.32 411.94 L465.07 413.24 L465.82 414.54 L466.57 415.84 L467.32 417.14 L468.07 418.44 L468.81 419.74 L469.56 421.04 L470.30 422.34 L471.05 423.63 L471.79 424.92 L472.53 426.22 L473.27 427.51 L474.02 428.80 L474.75 430.09 L475.49 431.38 L476.23 432.66 L476.97 433.95 L477.70 435.23 L478.44 436.51 L479.17 437.79 L479.90 439.07 L480.63 440.35 L481.36 441.63 L482.09 442.90 L482.82 444.18 L483.55 445.45 L484.27 446.72 L485.00 447.99 L485.72 449.25 L486.44 450.52 L487.16 451.78 L487.88 453.05 L488.60 454.31 L489.32 455.56 L490.03 456.82 L490.75 458.08 L491.46 459.33 L492.17 460.58 L492.88 461.83 L493.59 463.08 L494.30 464.32 L495.01 465.57 L495.71 466.81 L496.41 468.05 L497.12 469.29 L497.82 470.52 L498.52 471.75 L499.22 472.99 L499.91 474.22 L500.61 475.44 L501.30 476.67 L501.99 477.89 L502.68 479.11 L503.37 480.33 L504.06 481.55 L504.75 482.76 L505.43 483.97 L506.11 485.18 L506.79 486.39 L507.47 487.59 L508.15 488.80 L508.83 490.00 L509.50 491.19 L510.18 492.39 L510.85 493.58 L511.52 494.77 L512.19 495.96 L512.85 497.14 L513.52 498.32 L514.18 499.50 L514.84 500.68 L515.50 501.86 L516.16 503.03 L516.81 504.20 L517.47 505.36 L518.12 506.53 L518.77 507.69 L519.42 508.85 L520.07 510.00 L520.71 511.15 L521.35 512.30 L521.99 513.45 L522.63 514.60 L523.27 515.74 L523.91 516.87 L524.54 518.01 L525.17 519.14 L525.80 520.27 L526.43 521.40 L527.05 522.52 L527.68 523.64 L528.30 524.76 L528.92 525.87 L529.54 526.98 L530.15 528.09 L530.77 529.20 L531.38 530.30 L531.99 531.40 L532.59 532.49 L533.20 533.58 L533.80 534.67 L534.40 535.76 L535.00 536.84 L535.60 537.92 L536.19 538.99 L536.79 540.06 L537.38 541.13 L537.97 542.20 L538.55 543.26 L539.14 544.32 L539.72 545.37 L540.30 546.42 L540.87 547.47 L541.45 548.52 L542.02 549.56 L542.59 550.59 L543.16 551.63 L543.72 552.66 L544.29 553.68 L544.85 554.71 L545.41 555.73 L545.96 556.74 L546.52 557.75 L547.07 558.76 L547.62 559.77 L548.17 560.77 L548.71 561.76 L549.25 562.76 L549.79 563.74 L550.33 564.73 L550.86 565.71 L551.40 566.69 L551.93 567.66 L552.45 568.63 L552.98 569.60 L553.50 570.56 L554.02 571.52 L554.54 572.47 L555.05 573.42 L555.57 574.37 L556.08 575.31 L556.58 576.25 L557.09 577.18 L557.59 578.11 L558.09 579.03 L558.59 579.96 L559.08 580.87 L559.58 581.79 L560.07 582.70 L560.55 583.60 L561.04 584.50 L561.52 585.40 L562.00 586.29 L562.47 587.18 L562.95 588.06 L563.42 588.94 L563.89 589.81 L564.35 590.68 L564.81 591.55 L565.27 592.41 L565.73 593.27 L566.19 594.12 L566.64 594.97 L567.09 595.81 L567.53 596.65 L567.98 597.49 L568.42 598.32 L568.86 599.15 L569.29 599.97 L569.73 600.79 L570.15 601.60 L570.58 602.41 L571.01 603.21 L571.43 604.01 L571.85 604.80 L572.26 605.59 L572.67 606.38 L573.08 607.16 L573.49 607.93 L573.90 608.71 L574.30 609.47 L574.70 610.23 L575.09 610.99 L575.48 611.74 L575.87 612.49 L576.26 613.23 L576.64 613.97 L577.03 614.70 L577.40 615.43 L577.78 616.16 L578.15 616.87 L578.52 617.59 L578.89 618.30 L579.25 619.00 L579.61 619.70 L579.97 620.39 L580.32 621.08 L580.67 621.77 L581.02 622.45 L581.37 623.12 L581.71 623.79 L582.05 624.46 L582.38 625.12 L582.72 625.77 L583.05 626.42 L583.37 627.07 L583.70 627.70 L584.02 628.34 L584.34 628.97 L584.65 629.59 L584.96 630.21 L585.27 630.83 L585.58 631.44 L585.88 632.04 L586.18 632.64 L586.48 633.23 L586.77 633.82 L587.06 634.40 L587.35 634.98 L587.63 635.55 L587.91 636.12 L588.19 636.68 L588.46 637.24 L588.73 637.79 L589.00 638.34 L589.26 638.88 L589.53 639.42 L589.78 639.95 L590.04 640.48 L590.29 641.00 L590.54 641.51 L590.79 642.02 L591.03 642.53 L591.27 643.02 L591.50 643.52 L591.74 644.01 L591.97 644.49 L592.19 644.97 L592.42 645.44 L592.64 645.91 L592.85 646.37 L593.07 646.82 L593.28 647.28 L593.48 647.72 L593.69 648.16 L593.89 648.59 L594.08 649.02 L594.28 649.45 L594.47 649.86 L594.66 650.28 L594.84 650.68 L595.02 651.09 L595.20 651.48 L595.37 651.87 L595.54 652.26 L595.71 652.64 L595.88 653.01 L596.04 653.38 L596.19 653.74 L596.35 654.10 L596.50 654.45 L596.65 654.80 L596.79 655.14 L596.93 655.47 L597.07 655.80 L597.21 656.13 L597.34 656.45 L597.47 656.76 L597.59 657.07 L597.71 657.37 L597.83 657.66 L597.94 657.95 L598.06 658.24 L598.16 658.52 L598.27 658.79 L598.37 659.06 L598.47 659.32 L598.56 659.58 L598.65 659.83 L598.74 660.07 L598.83 660.31 L598.91 660.54 L598.98 660.77 L599.06 661.00 L599.13 661.21 L599.20 661.42 L599.26 661.63 L599.32 661.83 L599.38 662.02 L599.43 662.21 L599.49 662.39 L599.53 662.57 L599.58 662.74 L599.62 662.91 L599.66 663.07 L599.69 663.22 L599.72 663.37 L599.75 663.51 L599.77 663.65 L599.79 663.78 L599.81 663.90 L599.82 664.02 L599.83 664.14 L599.84 664.24 L599.84 664.35 L599.84 664.44 L599.84 664.53 L599.84 664.62 L599.83 664.70 L599.81 664.77 L599.80 664.84 L599.78 664.90 L599.75 664.96 L599.73 665.01 L599.70 665.05 L599.66 665.09 L599.63 665.12 L599.59 665.15" stroke-dasharray="7.05 4.46 9.35 4.46 9.35 4.46 9.35 4.46 9.35 4.46 9.35 4.46 9.35 4.46 9.35 4.46 9.35 4.46 9.35 4.46 9.35 4.46 9.35 4.46 9.35 4.46 9.35 4.46 9.35 4.46 9.35 4.46 9.35 4.46 9.35 4.46 9.35 4.46 9.35 4.46 9.35 4.46 9.35 4.46 9.35 4.46 9.35 4.46 9.35 4.46 9.35 4.46 9.35 4.46 9.35 4.46 9.35 4.46 9.35 4.46 9.35 4.46 9.35 4.46 9.35 4.46 9.35 4.46 9.35 4.46 9.35 4.46 9.35 4.46 9.35 4.46 9.35 4.46 9.35 4.46 9.35 4.46 9.35 4.46 9.35 4.46 9.35 4.46 9.35 4.46 9.35 4.46 9.35 4.46 9.35 4.46 9.35 4.46 9.35 4.46 9.35 4.45 7.20 4.13 9.35 4.46 9.35 4.46 9.35 4.46 9.35 4.46 9.35 4.46 9.35 4.46 9.35 4.46 9.35 4.46 9.35 4.46 9.35 4.46 9.35 4.46 9.35 4.46 9.35 4.46 9.35 4.46 9.35 4.46 9.35 4.46 9.35 4.46 9.35 4.46 9.35 4.46 9.35 4.46 9.35 4.46 9.35 4.46 9.35 4.46 9.35 4.46 9.35 4.46 9.35 4.46 9.35 4.46 9.35 4.46 9.35 4.46 9.35 4.46 9.35 4.46 9.35 4.46 9.35 4.46 9.35 4.46 9.35 4.46 9.35 4.46 9.35 4.46 9.35 4.46 9.35 4.46 9.35 4.46 9.35 4.46 9.35 4.46 9.35 4.46 9.35 4.46 9.35 4.46 9.35 4.46 9.35 4.46 9.35 4.46 9.35 4.46 9.35 4.46 9.35 50.00"/>
</g>
<g stroke="#002200" stroke-width="0.9" stroke-linejoin="miter">
<path d="M390.1 300.2 L398.9 315.3 L381.6 315.3 Z" fill="#00cc00"/>
<path d="M387.5 315.3 V304.7 M392.6 315.3 V304.5" fill="none"/>
</g>
</g>
<g stroke="#000" stroke-width="0.42" fill="none">
<path d="M108.30 8.90 H673.70"/>
<path d="M108.30 608.50 H673.70"/>
<path d="M108.30 8.90 V608.50"/>
<path d="M673.70 8.90 V608.50"/>
<path d="M108.30 608.50 v-6.0 M108.30 8.90 v6.0 M108.30 608.50 h6.0 M673.70 608.50 h-6.0 M127.15 608.50 v-3.0 M127.15 8.90 v3.0 M108.30 588.51 h3.0 M673.70 588.51 h-3.0 M145.99 608.50 v-3.0 M145.99 8.90 v3.0 M108.30 568.53 h3.0 M673.70 568.53 h-3.0 M164.84 608.50 v-3.0 M164.84 8.90 v3.0 M108.30 548.54 h3.0 M673.70 548.54 h-3.0 M183.69 608.50 v-3.0 M183.69 8.90 v3.0 M108.30 528.55 h3.0 M673.70 528.55 h-3.0 M202.53 608.50 v-6.0 M202.53 8.90 v6.0 M108.30 508.57 h6.0 M673.70 508.57 h-6.0 M221.38 608.50 v-3.0 M221.38 8.90 v3.0 M108.30 488.58 h3.0 M673.70 488.58 h-3.0 M240.23 608.50 v-3.0 M240.23 8.90 v3.0 M108.30 468.59 h3.0 M673.70 468.59 h-3.0 M259.07 608.50 v-3.0 M259.07 8.90 v3.0 M108.30 448.61 h3.0 M673.70 448.61 h-3.0 M277.92 608.50 v-3.0 M277.92 8.90 v3.0 M108.30 428.62 h3.0 M673.70 428.62 h-3.0 M296.77 608.50 v-6.0 M296.77 8.90 v6.0 M108.30 408.63 h6.0 M673.70 408.63 h-6.0 M315.61 608.50 v-3.0 M315.61 8.90 v3.0 M108.30 388.65 h3.0 M673.70 388.65 h-3.0 M334.46 608.50 v-3.0 M334.46 8.90 v3.0 M108.30 368.66 h3.0 M673.70 368.66 h-3.0 M353.31 608.50 v-3.0 M353.31 8.90 v3.0 M108.30 348.67 h3.0 M673.70 348.67 h-3.0 M372.15 608.50 v-3.0 M372.15 8.90 v3.0 M108.30 328.69 h3.0 M673.70 328.69 h-3.0 M391.00 608.50 v-6.0 M391.00 8.90 v6.0 M108.30 308.70 h6.0 M673.70 308.70 h-6.0 M409.85 608.50 v-3.0 M409.85 8.90 v3.0 M108.30 288.71 h3.0 M673.70 288.71 h-3.0 M428.69 608.50 v-3.0 M428.69 8.90 v3.0 M108.30 268.73 h3.0 M673.70 268.73 h-3.0 M447.54 608.50 v-3.0 M447.54 8.90 v3.0 M108.30 248.74 h3.0 M673.70 248.74 h-3.0 M466.39 608.50 v-3.0 M466.39 8.90 v3.0 M108.30 228.75 h3.0 M673.70 228.75 h-3.0 M485.23 608.50 v-6.0 M485.23 8.90 v6.0 M108.30 208.77 h6.0 M673.70 208.77 h-6.0 M504.08 608.50 v-3.0 M504.08 8.90 v3.0 M108.30 188.78 h3.0 M673.70 188.78 h-3.0 M522.93 608.50 v-3.0 M522.93 8.90 v3.0 M108.30 168.79 h3.0 M673.70 168.79 h-3.0 M541.77 608.50 v-3.0 M541.77 8.90 v3.0 M108.30 148.81 h3.0 M673.70 148.81 h-3.0 M560.62 608.50 v-3.0 M560.62 8.90 v3.0 M108.30 128.82 h3.0 M673.70 128.82 h-3.0 M579.47 608.50 v-6.0 M579.47 8.90 v6.0 M108.30 108.83 h6.0 M673.70 108.83 h-6.0 M598.31 608.50 v-3.0 M598.31 8.90 v3.0 M108.30 88.85 h3.0 M673.70 88.85 h-3.0 M617.16 608.50 v-3.0 M617.16 8.90 v3.0 M108.30 68.86 h3.0 M673.70 68.86 h-3.0 M636.01 608.50 v-3.0 M636.01 8.90 v3.0 M108.30 48.87 h3.0 M673.70 48.87 h-3.0 M654.85 608.50 v-3.0 M654.85 8.90 v3.0 M108.30 28.89 h3.0 M673.70 28.89 h-3.0 M673.70 608.50 v-6.0 M673.70 8.90 v6.0 M108.30 8.90 h6.0 M673.70 8.90 h-6.0" stroke-width="0.34"/>
<path d="M503.3 92.5 v4.5 M579.5 92.5 v4.5" stroke-opacity="0.7"/>
</g>
<text transform="translate(62.40 618.15) scale(0.8267 0.9790)" font-size="26" stroke="#000" stroke-width="0.554" stroke-linejoin="round">1</text><text transform="translate(73.60 618.10) scale(0.9535 0.9876)" font-size="26" stroke="#000" stroke-width="0.515" stroke-linejoin="round">5</text><text transform="translate(87.96 618.11) scale(0.8880 0.9741)" font-size="26" stroke="#000" stroke-width="0.537" stroke-linejoin="round">0</text><rect x="51.60" y="609.30" width="8.2" height="2.3"/>
<text transform="translate(62.00 518.02) scale(0.8267 0.9790)" font-size="26" stroke="#000" stroke-width="0.554" stroke-linejoin="round">1</text><text transform="translate(73.26 517.97) scale(0.8880 0.9741)" font-size="26" stroke="#000" stroke-width="0.537" stroke-linejoin="round">0</text><text transform="translate(88.66 517.97) scale(0.8880 0.9741)" font-size="26" stroke="#000" stroke-width="0.537" stroke-linejoin="round">0</text><rect x="51.20" y="509.17" width="8.2" height="2.3"/>
<text transform="translate(72.94 418.04) scale(1.0101 0.9876)" font-size="26" stroke="#000" stroke-width="0.501" stroke-linejoin="round">5</text><text transform="translate(88.77 418.04) scale(0.8800 0.9741)" font-size="26" stroke="#000" stroke-width="0.539" stroke-linejoin="round">0</text><rect x="62.60" y="409.23" width="8.2" height="2.3"/>
<text transform="translate(88.55 318.11) scale(0.8960 0.9741)" font-size="26" stroke="#000" stroke-width="0.535" stroke-linejoin="round">0</text>
<text transform="translate(72.94 218.17) scale(1.0101 0.9876)" font-size="26" stroke="#000" stroke-width="0.501" stroke-linejoin="round">5</text><text transform="translate(88.77 218.17) scale(0.8800 0.9741)" font-size="26" stroke="#000" stroke-width="0.539" stroke-linejoin="round">0</text>
<text transform="translate(62.00 118.28) scale(0.8267 0.9790)" font-size="26" stroke="#000" stroke-width="0.554" stroke-linejoin="round">1</text><text transform="translate(73.26 118.24) scale(0.8880 0.9741)" font-size="26" stroke="#000" stroke-width="0.537" stroke-linejoin="round">0</text><text transform="translate(88.66 118.24) scale(0.8880 0.9741)" font-size="26" stroke="#000" stroke-width="0.537" stroke-linejoin="round">0</text>
<text transform="translate(62.00 18.35) scale(0.8267 0.9790)" font-size="26" stroke="#000" stroke-width="0.554" stroke-linejoin="round">1</text><text transform="translate(73.20 18.30) scale(0.9535 0.9876)" font-size="26" stroke="#000" stroke-width="0.515" stroke-linejoin="round">5</text><text transform="translate(88.66 18.31) scale(0.8880 0.9741)" font-size="26" stroke="#000" stroke-width="0.537" stroke-linejoin="round">0</text>
<text transform="translate(94.60 635.45) scale(0.8267 0.9790)" font-size="26" stroke="#000" stroke-width="0.554" stroke-linejoin="round">1</text><text transform="translate(105.80 635.40) scale(0.9535 0.9876)" font-size="26" stroke="#000" stroke-width="0.515" stroke-linejoin="round">5</text><text transform="translate(120.56 635.41) scale(0.8880 0.9741)" font-size="26" stroke="#000" stroke-width="0.537" stroke-linejoin="round">0</text><rect x="83.80" y="626.60" width="8.2" height="2.3"/>
<text transform="translate(188.70 635.45) scale(0.8267 0.9790)" font-size="26" stroke="#000" stroke-width="0.554" stroke-linejoin="round">1</text><text transform="translate(199.96 635.41) scale(0.8880 0.9741)" font-size="26" stroke="#000" stroke-width="0.537" stroke-linejoin="round">0</text><text transform="translate(214.66 635.41) scale(0.8880 0.9741)" font-size="26" stroke="#000" stroke-width="0.537" stroke-linejoin="round">0</text><rect x="177.90" y="626.60" width="8.2" height="2.3"/>
<text transform="translate(288.04 635.40) scale(1.0101 0.9876)" font-size="26" stroke="#000" stroke-width="0.501" stroke-linejoin="round">5</text><text transform="translate(303.87 635.41) scale(0.8800 0.9741)" font-size="26" stroke="#000" stroke-width="0.539" stroke-linejoin="round">0</text><rect x="277.70" y="626.60" width="8.2" height="2.3"/>
<text transform="translate(384.65 635.41) scale(0.8960 0.9741)" font-size="26" stroke="#000" stroke-width="0.535" stroke-linejoin="round">0</text>
<text transform="translate(471.14 635.40) scale(1.0101 0.9876)" font-size="26" stroke="#000" stroke-width="0.501" stroke-linejoin="round">5</text><text transform="translate(486.97 635.41) scale(0.8800 0.9741)" font-size="26" stroke="#000" stroke-width="0.539" stroke-linejoin="round">0</text>
<text transform="translate(560.20 635.45) scale(0.8267 0.9790)" font-size="26" stroke="#000" stroke-width="0.554" stroke-linejoin="round">1</text><text transform="translate(571.46 635.41) scale(0.8880 0.9741)" font-size="26" stroke="#000" stroke-width="0.537" stroke-linejoin="round">0</text><text transform="translate(586.16 635.41) scale(0.8880 0.9741)" font-size="26" stroke="#000" stroke-width="0.537" stroke-linejoin="round">0</text>
<text transform="translate(644.90 635.45) scale(0.8267 0.9790)" font-size="26" stroke="#000" stroke-width="0.554" stroke-linejoin="round">1</text><text transform="translate(656.10 635.40) scale(0.9535 0.9876)" font-size="26" stroke="#000" stroke-width="0.515" stroke-linejoin="round">5</text><text transform="translate(670.86 635.41) scale(0.8880 0.9741)" font-size="26" stroke="#000" stroke-width="0.537" stroke-linejoin="round">0</text>
<g fill="none" stroke="#0000ff" stroke-opacity="0.2" stroke-width="4.4">
<path d="M501 31.9 H577.6" stroke-dasharray="23 4.6" stroke-dashoffset="1.8"/>
<path d="M501 52.3 H577.6" stroke-dasharray="9.3 4.4" stroke-dashoffset="1.6"/>
</g>
<text transform="translate(592.5 38.45) scale(1.048 1)" font-size="16.8" stroke="#000" stroke-width="0.25">68%</text>
<text transform="translate(592.5 59.5) scale(1.048 1)" font-size="16.8" stroke="#000" stroke-width="0.25">95%</text>
<g><text transform="translate(322.37 680.38) scale(0.9861 0.9976)" font-size="28" stroke="#000" stroke-width="0.353" stroke-linejoin="round">d</text><text transform="translate(339.21 685.73) scale(1.0102 1.0022)" font-size="17" stroke="#000" stroke-width="0.348" stroke-linejoin="round">1</text><text transform="translate(349.83 686.25) skewX(-20.0) scale(0.9891 1.3419)" font-size="17" stroke="#000" stroke-width="0.172">,</text><text transform="translate(355.69 685.73) scale(1.2333 1.0082)" font-size="17" stroke="#000" stroke-width="0.312" stroke-linejoin="round">i</text><text transform="translate(360.13 669.61) scale(1.1103 0.9479)" font-size="17" stroke="#000" stroke-width="0.340" stroke-linejoin="round">u</text><text transform="translate(371.55 669.59) scale(1.0951 1.0626)" font-size="17" stroke="#000" stroke-width="0.324" stroke-linejoin="round">d</text><text transform="translate(382.78 669.61) scale(0.9966 0.9459)" font-size="17" stroke="#000" stroke-width="0.360" stroke-linejoin="round">s</text><text transform="translate(391.31 679.91) scale(1.0644 0.9942)" font-size="28" stroke="#000" stroke-width="0.340" stroke-linejoin="round">(</text><text transform="translate(404.12 680.16) scale(0.9347 0.9615)" font-size="28" stroke="#000" stroke-width="0.369" stroke-linejoin="round">μ</text><text transform="translate(420.18 669.43) scale(1.1419 1.0484)" font-size="17" stroke="#000" stroke-width="0.320" stroke-linejoin="round">2</text><text transform="translate(420.97 685.33) scale(0.8060 0.9591)" font-size="17" stroke="#000" stroke-width="0.397" stroke-linejoin="round">F</text><text transform="translate(430.23 686.25) skewX(-20.0) scale(1.0507 1.3419)" font-size="17" stroke="#000" stroke-width="0.167">,</text><text transform="translate(436.73 685.40) scale(1.0400 0.9792)" font-size="17" stroke="#000" stroke-width="0.347" stroke-linejoin="round">0</text><text transform="translate(449.33 679.91) scale(0.9695 0.9942)" font-size="28" stroke="#000" stroke-width="0.356" stroke-linejoin="round">)</text></g>
<g transform="translate(-656.4 700.5) rotate(-90)"><text transform="translate(322.37 680.38) scale(0.9861 0.9976)" font-size="28" stroke="#000" stroke-width="0.353" stroke-linejoin="round">d</text><text transform="translate(338.89 685.70) scale(1.0892 1.0292)" font-size="17" stroke="#000" stroke-width="0.330" stroke-linejoin="round">3</text><text transform="translate(349.83 686.25) skewX(-20.0) scale(0.9891 1.3419)" font-size="17" stroke="#000" stroke-width="0.172">,</text><text transform="translate(355.69 685.73) scale(1.2333 1.0082)" font-size="17" stroke="#000" stroke-width="0.312" stroke-linejoin="round">i</text><text transform="translate(360.13 669.61) scale(1.1103 0.9479)" font-size="17" stroke="#000" stroke-width="0.340" stroke-linejoin="round">u</text><text transform="translate(371.55 669.59) scale(1.0951 1.0626)" font-size="17" stroke="#000" stroke-width="0.324" stroke-linejoin="round">d</text><text transform="translate(382.78 669.61) scale(0.9966 0.9459)" font-size="17" stroke="#000" stroke-width="0.360" stroke-linejoin="round">s</text><text transform="translate(391.31 679.91) scale(1.0644 0.9942)" font-size="28" stroke="#000" stroke-width="0.340" stroke-linejoin="round">(</text><text transform="translate(404.12 680.16) scale(0.9347 0.9615)" font-size="28" stroke="#000" stroke-width="0.369" stroke-linejoin="round">μ</text><text transform="translate(420.18 669.43) scale(1.1419 1.0484)" font-size="17" stroke="#000" stroke-width="0.320" stroke-linejoin="round">2</text><text transform="translate(420.97 685.33) scale(0.8060 0.9591)" font-size="17" stroke="#000" stroke-width="0.397" stroke-linejoin="round">F</text><text transform="translate(430.23 686.25) skewX(-20.0) scale(1.0507 1.3419)" font-size="17" stroke="#000" stroke-width="0.167">,</text><text transform="translate(436.73 685.40) scale(1.0400 0.9792)" font-size="17" stroke="#000" stroke-width="0.347" stroke-linejoin="round">0</text><text transform="translate(449.33 679.91) scale(0.9695 0.9942)" font-size="28" stroke="#000" stroke-width="0.356" stroke-linejoin="round">)</text></g>
</svg></body></html>
